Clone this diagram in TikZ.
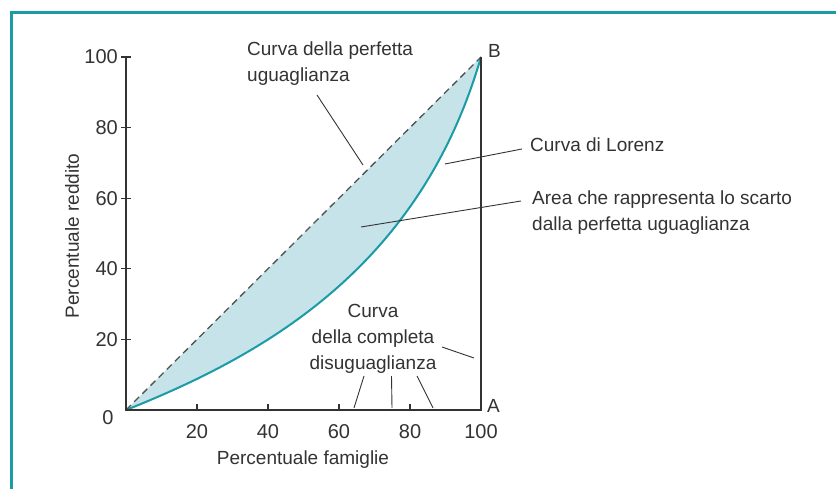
\documentclass[tikz,border=0pt]{standalone}
\usepackage{fontspec}
\setmainfont{Liberation Sans}
\definecolor{tealline}{HTML}{1A9BA5}
\definecolor{fillblue}{HTML}{C5E3E9}
\definecolor{ink}{HTML}{333333}
\begin{document}
\begin{tikzpicture}[x=1pt,y=-1pt,
  lbl/.style={font=\fontsize{19}{26}\selectfont, text=ink, inner sep=0pt},
  ticklbl/.style={font=\fontsize{20}{22}\selectfont, text=ink, inner sep=0pt},
  axisline/.style={draw=ink, line width=1.4pt},
  leader/.style={draw=ink, line width=0.9pt},
  tickmark/.style={draw=ink, line width=1.2pt},
]
\useasboundingbox (0,0) rectangle (836,489);
\fill[white] (0,0) rectangle (836,489);
\draw[tealline, line width=3pt] (11,495) -- (11,12.5) -- (842,12.5);

\coordinate (O) at (126,410);
\coordinate (A) at (481,410);
\coordinate (B) at (481,57);
\coordinate (T) at (126,57);

% area between the curves
\fill[fillblue] (O) -- (B) .. controls (420.6,265.3) and (268,353.5) .. (O) -- cycle;
% Lorenz curve
\draw[tealline, line width=2pt] (O) .. controls (268,353.5) and (420.6,265.3) .. (B);
% perfect equality
\draw[ink!85, line width=1.3pt, dash pattern=on 7pt off 4.5pt] (O) -- (B);
% axes and A-B line
\draw[axisline] (T) -- (O) -- (A) -- (B);

% ticks
\foreach \yy in {57,127.6,198.2,268.8,339.4} \draw[tickmark] (121,\yy) -- (131,\yy);
\foreach \xx in {197,268,339,410} \draw[tickmark] (\xx,404) -- (\xx,410);

% tick labels
\node[ticklbl, anchor=east] (y100) at (118,57) {100};
\node[ticklbl, anchor=east] (y80) at (118,127.6) {80};
\node[ticklbl, anchor=east] (y60) at (118,198.2) {60};
\node[ticklbl, anchor=east] (y40) at (118,268.8) {40};
\node[ticklbl, anchor=east] (y20) at (118,339.4) {20};
\node[ticklbl] (x0) at (108,418) {0};
\node[ticklbl] (x20) at (197,432) {20};
\node[ticklbl] (x40) at (268,432) {40};
\node[ticklbl] (x60) at (339,432) {60};
\node[ticklbl] (x80) at (410,432) {80};
\node[ticklbl] (x100) at (481,432) {100};

% axis titles
\node[lbl] (xtitle) at (303,460) {Percentuale famiglie};
\node[lbl, rotate=90] (ytitle) at (72,236) {Percentuale reddito};

% point labels
\node[lbl, anchor=west] (Alab) at (487,406) {A};
\node[lbl, anchor=west] (Blab) at (488,51) {B};

% annotations
\node[lbl, anchor=north west, align=left] (perf) at (247,42) {Curva della perfetta\\uguaglianza};
\node[lbl, anchor=west] (lorenz) at (530,145) {Curva di Lorenz};
\node[lbl, anchor=north west, align=left] (area) at (532,191) {Area che rappresenta lo scarto\\dalla perfetta uguaglianza};
\node[lbl, anchor=north, align=center] (compl) at (373,304) {Curva\\della completa\\disuguaglianza};

% leader lines
\coordinate (pL1) at (317,95);
\coordinate (pL2) at (363,165);
\draw[leader] (pL1) -- (pL2);
\coordinate (lL1) at (522,149);
\coordinate (lL2) at (445,164);
\draw[leader] (lL1) -- (lL2);
\coordinate (aL1) at (521,201);
\coordinate (aL2) at (361,227);
\draw[leader] (aL1) -- (aL2);
\coordinate (cL1) at (442,347);
\coordinate (cL2) at (474,358);
\draw[leader] (cL1) -- (cL2);
\coordinate (dL1) at (364,376);
\coordinate (dL2) at (354,408);
\draw[leader] (dL1) -- (dL2);
\coordinate (eL1) at (391.5,376);
\coordinate (eL2) at (392,408);
\draw[leader] (eL1) -- (eL2);
\coordinate (fL1) at (417,376);
\coordinate (fL2) at (433,408);
\draw[leader] (fL1) -- (fL2);
\end{tikzpicture}
\end{document}
